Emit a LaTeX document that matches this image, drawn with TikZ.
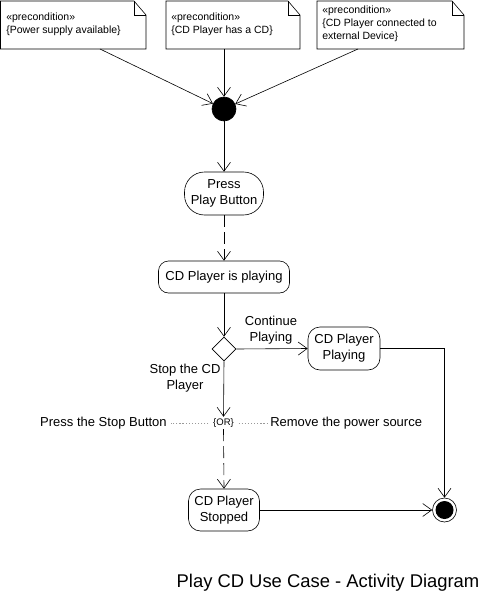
\documentclass[tikz,border=0pt]{standalone}
\usepackage{fontspec}
\setmainfont{Liberation Sans}
\usetikzlibrary{arrows.meta,shapes.geometric,calc}
\begin{document}
\begin{tikzpicture}[x=1pt,y=-1pt,
  line width=0.6pt,
  every node/.style={font=\fontsize{13}{16}\selectfont},
  arr/.style={-{Straight Barb[length=9pt,width=13pt,line width=0.6pt]}},
  dsh/.style={dash pattern=on 12pt off 5pt},
  act/.style={draw,rectangle,align=center,inner sep=0pt},
  notebox/.style={rectangle,align=left,inner sep=0pt,anchor=north west,font=\fontsize{10.5}{13}\selectfont},
  dots/.style={draw=gray!80,dash pattern=on 1.2pt off 1.9pt,line width=1pt}
]
\useasboundingbox (0,0) rectangle (484,594);
% notes
\newcommand{\notefold}[4]{\draw (#1,#2) -- (#3-12,#2) -- (#3,#2+14) -- (#3,#4) -- (#1,#4) -- cycle;
  \draw (#3-12,#2) -- (#3-12,#2+14) -- (#3,#2+14);}
\notefold{0.5}{1}{146}{49}
\notefold{166}{1}{300}{49}
\notefold{317}{1}{464}{49}
\node[notebox,anchor=west] (n1) at (6,24) {«precondition»\\\{Power supply available\}};
\node[notebox,anchor=west] (n2) at (171,24) {«precondition»\\\{CD Player has a CD\}};
\node[notebox,anchor=west] (n3) at (322,24) {«precondition»\\\{CD Player connected to\\external Device\}};
\coordinate (n1p) at (100,49);
\coordinate (n2p) at (224,49);
\coordinate (n3p) at (358,49);
% nodes
\node[circle,fill=black,draw,minimum size=24pt,inner sep=0pt] (init) at (224,109) {};
\node[act,minimum width=79pt,minimum height=43pt,rounded corners=20pt] (press) at (224,193.5) {Press\\Play Button};
\node[act,minimum width=131pt,minimum height=32pt,rounded corners=10pt] (playing) at (224,277) {CD Player is playing};
\node[draw,diamond,minimum width=24pt,minimum height=24pt,inner sep=0pt] (dec) at (224,349) {};
\node[act,minimum width=72pt,minimum height=43pt,rounded corners=12pt] (cdpp) at (344,348.5) {CD Player\\Playing};
\node[inner sep=1.5pt,font=\fontsize{9.5}{11}\selectfont] (or) at (223.5,423) {\{OR\}};
\node[act,minimum width=71pt,minimum height=42pt,rounded corners=12pt] (stopped) at (224,510) {CD Player\\Stopped};
\node[circle,draw,minimum size=24pt,inner sep=0pt] (final) at (444.5,510) {};
\node[circle,fill=black,minimum size=18pt,inner sep=0pt] (finalin) at (444.5,510) {};
% labels
\node[anchor=east,inner sep=0pt] (pstop) at (167,423) {Press the Stop Button};
\node[anchor=west,inner sep=0pt] (rem) at (270,423) {Remove the power source};
\node[align=center,inner sep=0pt] (lcont) at (271,330) {Continue\\Playing};
\node[align=center,inner sep=0pt] (lstop) at (185,378) {Stop the CD\\Player};
\node[inner sep=0pt,font=\fontsize{18.4}{22}\selectfont] (title) at (328,583) {Play CD Use Case - Activity Diagram};
% connectors
\draw[arr] (n1p) -- (init);
\draw[arr] (n2p) -- (init);
\draw[arr] (n3p) -- (init);
\draw[arr] (init) -- (press);
\draw[arr,dsh] (press) -- (playing);
\draw[arr] (playing) -- (dec);
\draw[arr] (dec.east) -- (cdpp.west);
\draw[arr] (cdpp.east) -| (final.north);
\draw[arr] (dec.south) -- (or.north);
\draw[arr,dsh] (or.south) -- (stopped.north);
\draw[arr] (stopped.east) -- (final.west);
\draw[dots] ([xshift=-3pt]or.west) -- ([xshift=4pt]pstop.east);
\draw[dots] ([xshift=3pt]or.east) -- ([xshift=-3pt]rem.west);
\end{tikzpicture}
\end{document}
